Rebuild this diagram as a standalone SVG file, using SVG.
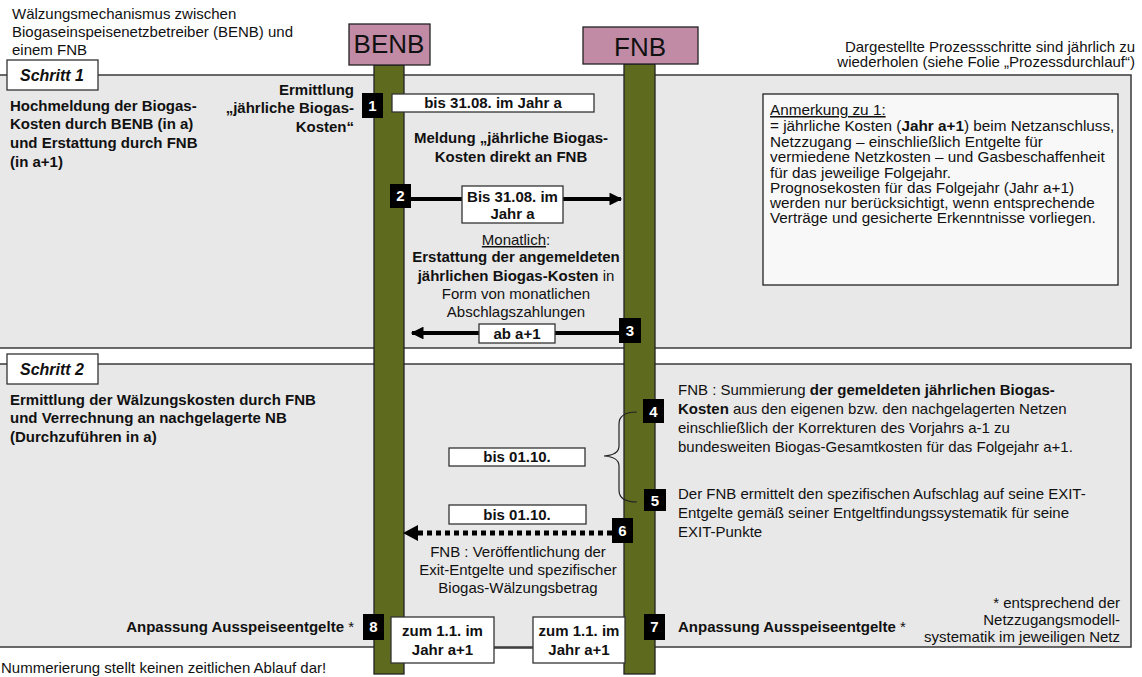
<svg xmlns="http://www.w3.org/2000/svg" width="1142" height="677" viewBox="0 0 1142 677">
<style>
text{font-family:"Liberation Sans",Arial,sans-serif;font-size:15px;fill:#111}
.b{font-weight:bold}
.c{text-anchor:middle}
.r{text-anchor:end}
.an{font-size:15.3px}
.panel{fill:#e8e8e8;stroke:#3a3a3a;stroke-width:1.5}
.wbox{fill:#fff;stroke:#333;stroke-width:1.3}
.life{fill:#5e6b1f;stroke:#222;stroke-width:1.3}
.head{fill:#c18ba6;stroke:#222;stroke-width:1.3}
.num{fill:#000}
.nt{fill:#fff;font-weight:bold;font-size:15px;text-anchor:middle}
.arr{stroke:#000;stroke-width:4;fill:none}
.sch{font-weight:bold;font-style:italic;font-size:16px;text-anchor:middle}
.u{text-decoration:underline}
</style>
<defs>
<marker id="ah" viewBox="0 0 10 10" refX="9" refY="5" markerWidth="4" markerHeight="3.2" orient="auto" markerUnits="strokeWidth"><path d="M0,0 L10,5 L0,10 z" fill="#000"/></marker>
</defs>
<rect width="1142" height="677" fill="#fff"/>

<g id="title">
<text x="12" y="19">Wälzungsmechanismus zwischen</text>
<text x="12" y="37">Biogaseinspeisenetzbetreiber (BENB) und</text>
<text x="12" y="55">einem FNB</text>
</g>
<g id="note-top">
<text class="r" x="1135" y="52">Dargestellte Prozessschritte sind jährlich zu</text>
<text class="r" x="1135" y="67">wiederholen (siehe Folie „Prozessdurchlauf“)</text>
</g>

<g id="panel1">
<rect class="panel" x="-5" y="75" width="1136" height="273"/>
<rect class="wbox" x="7" y="60" width="91" height="30"/>
<text class="sch" x="52" y="81">Schritt 1</text>
<text class="b" x="10" y="111">Hochmeldung der Biogas-</text>
<text class="b" x="10" y="129">Kosten durch BENB (in a)</text>
<text class="b" x="10" y="148">und  Erstattung durch FNB</text>
<text class="b" x="10" y="167">(in a+1)</text>
</g>
<g id="panel2">
<rect class="panel" x="-5" y="364" width="1136" height="283"/>
<rect class="wbox" x="7" y="354" width="91" height="30"/>
<text class="sch" x="52" y="375">Schritt 2</text>
<text class="b" x="10" y="405">Ermittlung der Wälzungskosten durch FNB</text>
<text class="b" x="10" y="423">und Verrechnung an nachgelagerte NB</text>
<text class="b" x="10" y="442">(Durchzuführen in a)</text>
</g>

<g id="anmerkung">
<rect x="763" y="94" width="355" height="191" fill="#f8f8f8" stroke="#222" stroke-width="1.3"/>
<text class="an" x="770" y="115"><tspan class="u">Anmerkung zu 1:</tspan></text>
<text class="an" x="770" y="131">= jährliche Kosten (<tspan class="b">Jahr a+1</tspan>) beim Netzanschluss,</text>
<text class="an" x="770" y="147">Netzzugang – einschließlich Entgelte für</text>
<text class="an" x="770" y="162">vermiedene Netzkosten – und Gasbeschaffenheit</text>
<text class="an" x="770" y="178">für das jeweilige Folgejahr.</text>
<text class="an" x="770" y="193">Prognosekosten für das Folgejahr (Jahr a+1)</text>
<text class="an" x="770" y="208">werden nur berücksichtigt, wenn entsprechende</text>
<text class="an" x="770" y="223">Verträge und gesicherte Erkenntnisse vorliegen.</text>
</g>

<g id="benb">
<rect class="life" x="374" y="65" width="30" height="609"/>
<rect class="head" x="349" y="24" width="81" height="41"/>
<text class="c" x="389" y="53" style="font-size:26px">BENB</text>
</g>
<g id="fnb">
<rect class="life" x="624" y="64" width="31" height="610"/>
<rect class="head" x="583" y="27" width="115" height="37"/>
<text class="c" x="640" y="56" style="font-size:26px">FNB</text>
</g>

<g id="connectors">
<line class="arr" x1="411" y1="199" x2="621" y2="199" marker-end="url(#ah)"/>
<line class="arr" x1="619" y1="333" x2="412" y2="333" marker-end="url(#ah)"/>
<line x1="612" y1="533" x2="416" y2="533" stroke="#000" stroke-width="5" stroke-dasharray="5 4"/>
<path d="M418,525 L403,533 L418,541 z" fill="#000"/>
<path d="M637,412 Q619,412 619,424 L619,446 Q619,455 604,456 Q619,457 619,466 L619,490 Q619,502 637,502" fill="none" stroke="#222" stroke-width="1.2"/>
<line x1="494" y1="648" x2="533" y2="648" stroke="#333" stroke-width="1.3"/>
</g>

<g id="step1">
<rect class="num" x="362" y="93" width="21" height="25"/>
<text class="nt" x="372.5" y="111">1</text>
<rect class="wbox" x="392" y="94" width="202" height="18"/>
<text class="b c" x="493" y="108">bis 31.08. im Jahr a</text>
<text class="b r" x="354" y="95">Ermittlung</text>
<text class="b r" x="354" y="113">„jährliche Biogas-</text>
<text class="b r" x="354" y="132">Kosten“</text>
<text class="b c" x="511" y="143">Meldung „jährliche Biogas-</text>
<text class="b c" x="511" y="162">Kosten direkt an FNB</text>
</g>
<g id="step2">
<rect class="num" x="390" y="184" width="21" height="24"/>
<text class="nt" x="400.5" y="201">2</text>
<rect class="wbox" x="462" y="186" width="101" height="37"/>
<text class="b c" x="512.5" y="202">Bis 31.08. im</text>
<text class="b c" x="512.5" y="219">Jahr a</text>
</g>
<g id="step3">
<text class="c" x="516" y="245"><tspan class="u">Monatlich</tspan>:</text>
<text class="b c" x="516" y="262">Erstattung der angemeldeten</text>
<text class="c" x="516" y="281"><tspan class="b">jährlichen Biogas-Kosten</tspan> in</text>
<text class="c" x="516" y="299">Form von monatlichen</text>
<text class="c" x="516" y="317">Abschlagszahlungen</text>
<rect class="wbox" x="479" y="324" width="76" height="19"/>
<text class="b c" x="517" y="339">ab a+1</text>
<rect class="num" x="619" y="318" width="22" height="25"/>
<text class="nt" x="630" y="336">3</text>
</g>
<g id="step4">
<rect class="num" x="643" y="399" width="21" height="24"/>
<text class="nt" x="653.5" y="417">4</text>
<text x="678" y="395">FNB : Summierung <tspan class="b">der gemeldeten jährlichen Biogas-</tspan></text>
<text x="678" y="414"><tspan class="b">Kosten</tspan> aus den eigenen bzw. den nachgelagerten Netzen</text>
<text x="678" y="433">einschließlich der Korrekturen des Vorjahrs a-1 zu</text>
<text x="678" y="452">bundesweiten Biogas-Gesamtkosten für das Folgejahr a+1.</text>
<rect class="wbox" x="449" y="448" width="136" height="18"/>
<text class="b c" x="517" y="462">bis 01.10.</text>
</g>
<g id="step5">
<rect class="num" x="644" y="489" width="22" height="22"/>
<text class="nt" x="655" y="506">5</text>
<text x="678" y="499">Der FNB ermittelt den spezifischen Aufschlag auf seine EXIT-</text>
<text x="678" y="518">Entgelte gemäß seiner Entgeltfindungssystematik für seine</text>
<text x="678" y="537">EXIT-Punkte</text>
</g>
<g id="step6">
<rect class="wbox" x="449" y="505" width="137" height="19"/>
<text class="b c" x="517" y="520">bis 01.10.</text>
<rect class="num" x="612" y="518" width="21" height="25"/>
<text class="nt" x="622.5" y="536">6</text>
<text class="c" x="518" y="557">FNB : Veröffentlichung der</text>
<text class="c" x="518" y="575">Exit-Entgelte und spezifischer</text>
<text class="c" x="518" y="593">Biogas-Wälzungsbetrag</text>
</g>
<g id="step8">
<text class="r" x="354" y="632"><tspan class="b">Anpassung Ausspeiseentgelte</tspan> *</text>
<rect class="num" x="363" y="614" width="21" height="26"/>
<text class="nt" x="373.5" y="632">8</text>
<rect class="wbox" x="391" y="617" width="103" height="46"/>
<text class="b c" x="442.5" y="636">zum 1.1. im</text>
<text class="b c" x="442.5" y="655">Jahr a+1</text>
</g>
<g id="step7">
<rect class="wbox" x="533" y="617" width="92" height="46"/>
<text class="b c" x="579" y="636">zum 1.1. im</text>
<text class="b c" x="579" y="655">Jahr a+1</text>
<rect class="num" x="644" y="614" width="21" height="26"/>
<text class="nt" x="654.5" y="632">7</text>
<text x="678" y="632"><tspan class="b">Anpassung Ausspeiseentgelte</tspan> *</text>
</g>
<g id="footnote">
<text class="r" x="1120" y="608">* entsprechend der</text>
<text class="r" x="1120" y="625">Netzzugangsmodell-</text>
<text class="r" x="1120" y="642">systematik im jeweiligen Netz</text>
<text x="1" y="673">Nummerierung stellt keinen zeitlichen Ablauf dar!</text>
</g>
</svg>
